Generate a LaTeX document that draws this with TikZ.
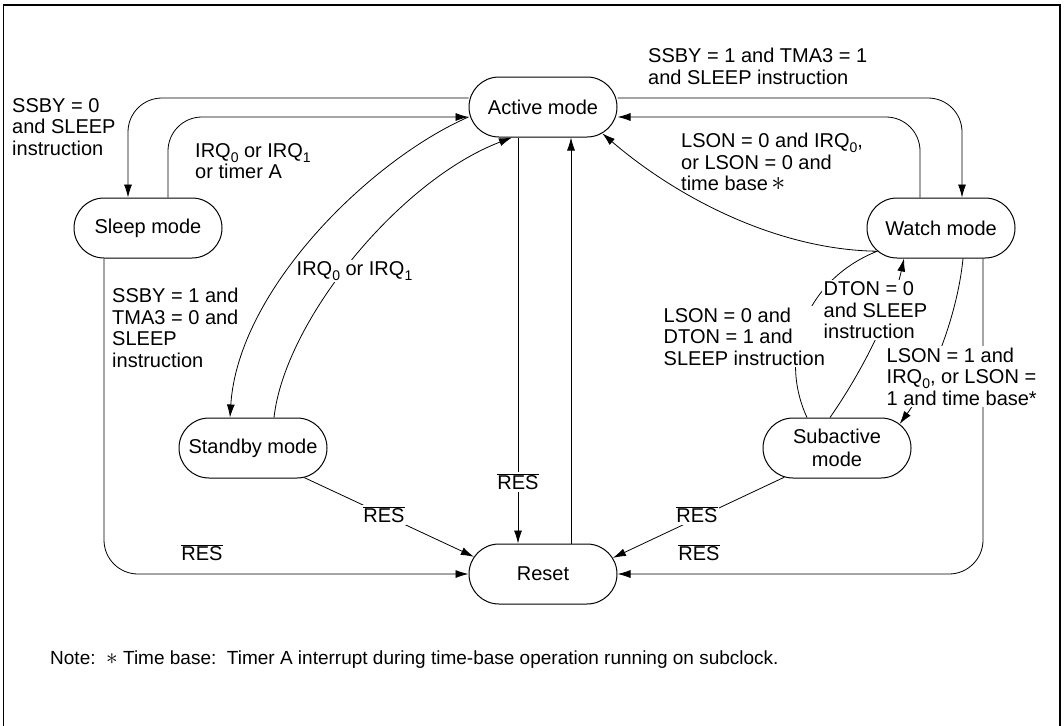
\documentclass[tikz,border=0pt]{standalone}
\usepackage{fontspec}
\usepackage{graphicx}
\setmainfont{Liberation Sans}
\usetikzlibrary{arrows.meta,shapes.misc}
\newcommand{\sbs}[1]{\raisebox{-0.25em}{\fontsize{14}{14}\selectfont #1}}
\newcommand{\resbar}{$\overline{\mbox{RES}}$}
\newcommand{\bigast}{\scalebox{1.35}{$\ast$}}
\begin{document}
\begin{tikzpicture}[x=1pt,y=-1pt,
  font=\fontsize{20}{21.5}\selectfont,
  state/.style={draw, rounded rectangle, minimum width=152pt, minimum height=60pt, line width=1pt, inner sep=2pt, align=center},
  arr/.style={-{Latex[length=13pt,width=8pt]}, line width=0.8pt},
  lbl/.style={align=left, inner sep=0pt, anchor=north west},
  wlbl/.style={align=left, inner sep=1.5pt, anchor=north west, fill=white},
  wl/.style={fill=white, inner sep=1.5pt}]
\useasboundingbox (0,0) rectangle (1064,725);
\draw[line width=1.5pt] (3.5,726) -- (3.5,5) -- (1060,5) -- (1060,726);

% states
\node[state] (active) at (543,107) {Active mode};
\node[state] (reset) at (543,574) {Reset};
\node[state] (sleep) at (148,228) {Sleep mode};
\node[state] (watch) at (941,228) {Watch mode};
\node[state] (standby) at (253,448) {Standby mode};
\node[state] (subactive) at (837,448) {Subactive\\[2pt]mode};

% transitions
\draw[arr, rounded corners=34pt] ([yshift=9pt]active.west) -| ([xshift=-20pt]sleep.north);
\draw[arr, rounded corners=34pt] ([xshift=20pt]sleep.north) |- ([yshift=-10pt]active.west);
\draw[arr] ([yshift=-10pt]active.west) .. controls (370,160) and (238,290) .. ([xshift=-23pt]standby.north);
\draw[arr] ([xshift=21pt]standby.north) .. controls (285,320) and (400,180) .. ([xshift=-31pt]active.south);
\draw[arr] ([xshift=-25pt]active.south) -- ([xshift=-25pt]reset.north);
\draw[arr] ([xshift=28pt]reset.north) -- ([xshift=28pt]active.south);
\draw[arr] (standby.-30) -- (reset.166);
\draw[arr, rounded corners=34pt] ([xshift=-44pt]sleep.south) |- (reset.west);
\draw[arr, rounded corners=34pt] ([yshift=9pt]active.east) -| ([xshift=21pt]watch.north);
\draw[arr, rounded corners=34pt] ([xshift=-21pt]watch.north) |- ([yshift=-10pt]active.east);
\draw[arr] ([xshift=-30pt]subactive.north) .. controls (778,355) and (805,280) .. (watch.200) .. controls (780,250) and (680,200) .. (active.-24);
\draw[arr] ([xshift=-7pt]subactive.north) .. controls (870,360) and (895,300) .. ([xshift=-37pt]watch.south);
\draw[arr] ([xshift=22pt]watch.south) .. controls (958,310) and (935,375) .. (subactive.21);
\draw[arr, rounded corners=34pt] ([xshift=42pt]watch.south) |- (reset.east);
\draw[arr] (subactive.209) -- (reset.13);

% labels
\node[lbl] (t1) at (12,98) {SSBY = 0\\and SLEEP\\instruction};
\node[lbl] (t2) at (195,143) {IRQ\sbs{0} or IRQ\sbs{1}\\or timer A};
\node[lbl] (t3) at (112,288) {SSBY = 1 and\\TMA3 = 0 and\\SLEEP\\instruction};
\node[wlbl] (t4) at (295,260) {IRQ\sbs{0} or IRQ\sbs{1}};
\node[lbl] (t5) at (648,48) {SSBY = 1 and TMA3 = 1\\and SLEEP instruction};
\node[lbl] (t6) at (681,133) {LSON = 0 and IRQ\sbs{0},\\or LSON = 0 and\\time base\,\bigast};
\node[wlbl] (t7) at (662,306) {LSON = 0 and\\DTON = 1 and\\SLEEP instruction};
\node[wlbl] (t8) at (822,280) {DTON = 0\\and SLEEP\\instruction};
\node[wlbl] (t9) at (885,346) {LSON = 1 and\\IRQ\sbs{0}, or LSON =\\1 and time base*};

\node[wl] (r1) at (518,482) {\resbar};
\node[wl] (r2) at (384,515) {\resbar};
\node[inner sep=1pt] (r3) at (202,553) {\resbar};
\node[wl] (r4) at (697,515) {\resbar};
\node[inner sep=1pt] (r5) at (699,553) {\resbar};

\node[anchor=west, inner sep=0pt, font=\fontsize{19}{21}\selectfont] (note) at (50,660) {Note:\ \ \bigast\ Time base:\ \ Timer A interrupt during time-base operation running on subclock.};
\end{tikzpicture}
\end{document}
